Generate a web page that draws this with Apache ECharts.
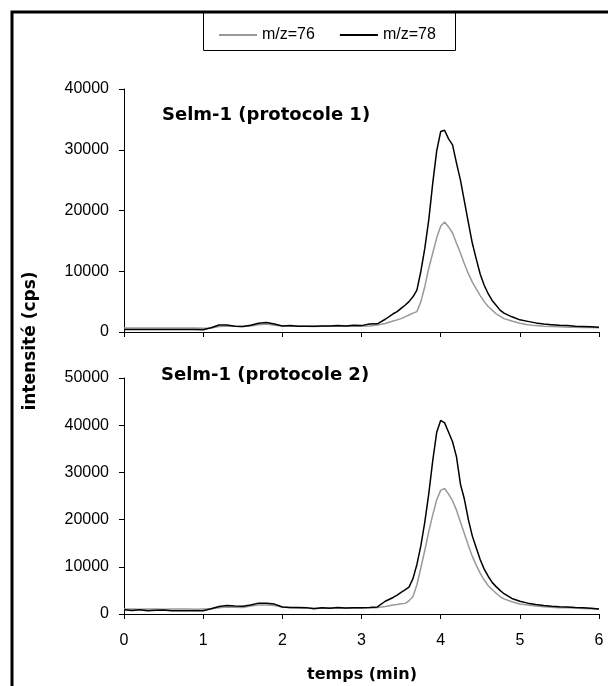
<!DOCTYPE html>
<html lang="fr">
<head>
<meta charset="UTF-8">
<title>Selm-1</title>
<script src="https://cdn.jsdelivr.net/npm/echarts@6/dist/echarts.min.js"></script>
<style>
  html, body { margin: 0; padding: 0; background: #fff; }
  #main { width: 608px; height: 686px; }
</style>
</head>
<body>
<div id="main"></div>
<script>
  // temps de rétention (min)
  var temps = [0, 0.1, 0.2, 0.3, 0.4, 0.5, 0.6, 0.7, 0.8, 0.9, 1.0, 1.1, 1.2, 1.3, 1.4, 1.5, 1.6, 1.7, 1.8, 1.9,
    2.0, 2.1, 2.2, 2.3, 2.4, 2.5, 2.6, 2.7, 2.8, 2.9, 3.0, 3.1, 3.2, 3.3, 3.4,
    3.45, 3.5, 3.55, 3.6, 3.65, 3.7, 3.75, 3.8, 3.85, 3.9, 3.95, 4.0, 4.05, 4.1, 4.15, 4.2, 4.25, 4.3, 4.35,
    4.4, 4.45, 4.5, 4.55, 4.6, 4.65, 4.7, 4.75, 4.8,
    4.9, 5.0, 5.1, 5.2, 5.3, 5.4, 5.5, 5.6, 5.7, 5.8, 5.9, 6.0];

  // protocole 1
  var p1_mz76 = [650, 650, 640, 650, 650, 650, 640, 650, 650, 650, 600, 650, 900, 950, 950, 900, 1000, 1200, 1300, 1100,
    1000, 950, 950, 950, 900, 950, 950, 950, 950, 950, 950, 1000, 1150, 1400, 1800,
    2000, 2200, 2500, 2800, 3100, 3350, 5000, 7500, 10500, 13000, 15500, 17400, 18100, 17300, 16300, 14600, 13000, 11200, 9600,
    8200, 7100, 6000, 5000, 4200, 3600, 3000, 2600, 2200,
    1800, 1450, 1200, 1050, 950, 900, 850, 800, 800, 750, 750, 700];
  var p1_mz78 = [400, 420, 400, 400, 410, 400, 400, 400, 400, 400, 380, 700, 1150, 1150, 950, 900, 1100, 1450, 1550, 1300,
    1000, 1050, 950, 950, 950, 1000, 1000, 1050, 1000, 1100, 1050, 1300, 1350, 2100, 3000,
    3350, 3900, 4400, 5000, 5800, 6900, 10000, 13800, 18500, 24500, 29800, 33000, 33200, 31800, 30800, 27800, 25000, 21500, 18000,
    14600, 12000, 9500, 7700, 6300, 5200, 4400, 3600, 3100,
    2500, 2000, 1750, 1500, 1300, 1200, 1100, 1050, 950, 900, 850, 800];

  // protocole 2
  var p2_mz76 = [1050, 1050, 1000, 1050, 1050, 1000, 1050, 1050, 1050, 1000, 1050, 1100, 1300, 1500, 1450, 1400, 1700, 1900, 1900, 1800,
    1500, 1300, 1250, 1250, 1200, 1250, 1250, 1250, 1200, 1250, 1250, 1300, 1350, 1600, 1900,
    2000, 2150, 2250, 2800, 3700, 6200, 9800, 13500, 17500, 21000, 24200, 26200, 26600, 25400, 24000, 22000, 19500, 17000, 14500,
    12200, 10300, 8600, 7200, 6000, 5200, 4400, 3700, 3200,
    2600, 2100, 1900, 1700, 1550, 1450, 1350, 1300, 1250, 1150, 1100, 1000];
  var p2_mz78 = [900, 750, 900, 700, 800, 850, 700, 700, 700, 700, 700, 1100, 1600, 1800, 1700, 1650, 1900, 2300, 2300, 2100,
    1500, 1400, 1400, 1350, 1100, 1300, 1200, 1400, 1250, 1300, 1350, 1400, 1500, 2700, 3500,
    4000, 4600, 5100, 5700, 7500, 10500, 14500, 19500, 25500, 32500, 38500, 41000, 40500, 38500, 36500, 33300, 27500, 24300, 20000,
    16500, 14000, 11500, 9500, 8000, 6700, 5800, 5000, 4300,
    3300, 2700, 2300, 2000, 1800, 1650, 1550, 1500, 1400, 1350, 1200, 1050];

  var xTicks = [0, 1, 2, 3, 4, 5, 6];
  var yMax = [40000, 50000];

  function pairs(vals) {
    return temps.map(function (t, i) { return [t, vals[i]]; });
  }

  var axisLine = { lineStyle: { color: '#000', width: 1 } };
  var axisTick = { inside: false, length: 5, lineStyle: { color: '#000' } };
  var font = 'Liberation Sans, Arial, sans-serif';
  var wide = 'DejaVu Sans, sans-serif';

  function xAxis(idx, labels) {
    return {
      type: 'value', gridIndex: idx, min: xTicks[0], max: xTicks[xTicks.length - 1], interval: 1,
      axisLine: axisLine, axisTick: axisTick, splitLine: { show: false },
      axisLabel: { show: labels, color: '#000', fontSize: 16, fontFamily: font, margin: 19 }
    };
  }
  function yAxis(idx) {
    return {
      type: 'value', gridIndex: idx, min: 0, max: yMax[idx], interval: 10000,
      axisLine: { show: true, lineStyle: { color: '#000', width: 1 } }, axisTick: axisTick, splitLine: { show: false },
      axisLabel: { color: '#000', fontSize: 16, fontFamily: font, margin: 15, formatter: function (v) { return String(v); } }
    };
  }
  function line(name, vals, idx, color) {
    return {
      name: name, type: 'line', xAxisIndex: idx, yAxisIndex: idx, data: pairs(vals),
      showSymbol: false, symbol: 'none', animation: false,
      lineStyle: { color: color, width: 1.5 }, itemStyle: { color: color }
    };
  }

  var chart = echarts.init(document.getElementById('main'));
  chart.setOption({
    animation: false,
    backgroundColor: '#fff',
    grid: [
      { left: 124, right: 9, top: 89, height: 243 },
      { left: 124, right: 9, top: 378, height: 236 }
    ],
    legend: {
      left: 214, top: 22, itemWidth: 38, itemHeight: 2, itemGap: 25, icon: 'rect',
      textStyle: { color: '#000', fontSize: 16, fontFamily: font },
      data: ['m/z=76', 'm/z=78']
    },
    xAxis: [xAxis(0, false), xAxis(1, true)],
    yAxis: [yAxis(0), yAxis(1)],
    series: [
      line('m/z=76', p1_mz76, 0, '#999'),
      line('m/z=78', p1_mz78, 0, '#000'),
      line('m/z=76', p2_mz76, 1, '#999'),
      line('m/z=78', p2_mz78, 1, '#000')
    ],
    graphic: [
      { type: 'polyline', shape: { points: [[12, 686], [12, 12], [608, 12]] }, style: { stroke: '#000', lineWidth: 3, fill: null } },
      { type: 'rect', shape: { x: 203.5, y: 12.5, width: 252, height: 38 }, style: { stroke: '#000', lineWidth: 1, fill: null } },
      { type: 'text', left: 162, top: 106, style: { text: 'Selm-1 (protocole 1)', font: 'bold 18px ' + wide, fill: '#000' } },
      { type: 'text', left: 161, top: 366, style: { text: 'Selm-1 (protocole 2)', font: 'bold 18px ' + wide, fill: '#000' } },
      { type: 'text', x: 362, y: 675, style: { text: 'temps (min)', font: 'bold 16px ' + wide, fill: '#000', align: 'center', verticalAlign: 'middle' } },
      { type: 'text', x: 31, y: 341, rotation: Math.PI / 2, style: { text: 'intensité (cps)', font: 'bold 17px ' + wide, fill: '#000', align: 'center', verticalAlign: 'middle' } }
    ]
  });
</script>
</body>
</html>
